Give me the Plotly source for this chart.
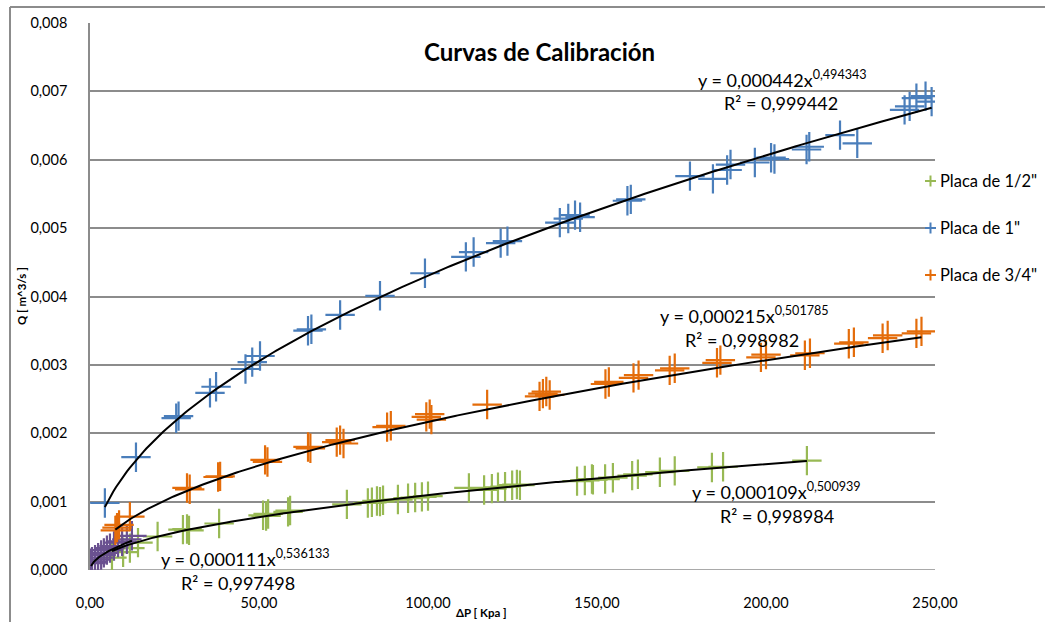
import plotly.graph_objects as go
import numpy as np

# ---------------- data ----------------
blue_x = [4.4, 13.6, 25.5, 26.2, 35.5, 37.3, 46.0, 48.0, 50.3, 64.5, 65.5, 74.0, 85.8, 99.1,
          111.2, 113.5, 121.5, 123.5, 139.0, 141.5, 143.5, 145.0, 159.0, 160.0, 177.5, 184.3,
          188.5, 189.5, 196.7, 201.5, 202.5, 212.0, 212.8, 221.9, 227.0, 241.0, 242.5, 244.5,
          247.2, 249.0]
blue_y = [0.00098, 0.00165, 0.00222, 0.00225, 0.00259, 0.00268, 0.00294, 0.00304, 0.00313,
          0.00350, 0.00352, 0.00373, 0.00401, 0.00434, 0.00458, 0.00465, 0.00478, 0.00481,
          0.00508, 0.00514, 0.00519, 0.00516, 0.00540, 0.00542, 0.00576, 0.00572, 0.00585,
          0.00593, 0.00596, 0.00603, 0.00601, 0.00615, 0.00619, 0.00636, 0.00624, 0.00673,
          0.00678, 0.00690, 0.00693, 0.00685]

orange_x = [7.5, 8.0, 8.6, 11.8, 28.7, 29.5, 37.9, 38.5, 51.8, 52.5, 64.5, 65.2, 73.0, 74.0,
            75.0, 87.9, 89.0, 99.5, 100.5, 101.0, 117.5, 133.0, 134.0, 135.0, 136.0, 152.5,
            153.5, 160.8, 162.3, 171.5, 173.0, 185.5, 186.5, 198.5, 200.0, 211.5, 213.0,
            224.5, 226.0, 234.5, 236.0, 244.5, 246.0]
orange_y = [0.00058, 0.00062, 0.00066, 0.00078, 0.00120, 0.00118, 0.00136, 0.00137, 0.00161,
            0.00158, 0.00180, 0.00178, 0.00187, 0.00190, 0.00185, 0.00209, 0.00211, 0.00224,
            0.00228, 0.00220, 0.00242, 0.00254, 0.00258, 0.00261, 0.00256, 0.00272, 0.00275,
            0.00281, 0.00285, 0.00292, 0.00295, 0.00303, 0.00307, 0.00311, 0.00315, 0.00314,
            0.00317, 0.00331, 0.00333, 0.00339, 0.00343, 0.00346, 0.00349]

green_x = [6.5, 9.8, 11.8, 14.2, 20.0, 27.5, 28.7, 29.3, 38.2, 51.2, 52.1, 52.7, 58.6, 59.2,
           76.0, 82.2, 83.4, 84.9, 85.8, 86.7, 91.1, 94.1, 96.2, 98.2, 100.0, 112.1, 116.6,
           118.9, 120.7, 122.8, 124.9, 126.3, 127.2, 144.1, 146.4, 148.5, 148.8, 152.4, 154.7,
           160.4, 162.1, 168.6, 173.0, 184.0, 187.3, 212.1]
green_y = [0.00018, 0.00026, 0.00032, 0.00040, 0.00049, 0.00059, 0.00060, 0.00058, 0.00068,
           0.00080, 0.00079, 0.00082, 0.00085, 0.00087, 0.00096, 0.00098, 0.00099, 0.00101,
           0.00100, 0.00102, 0.00103, 0.00105, 0.00106, 0.00107, 0.00108, 0.00120, 0.00117,
           0.00119, 0.00121, 0.00122, 0.00124, 0.00125, 0.00124, 0.00130, 0.00131, 0.00133,
           0.00132, 0.00133, 0.00135, 0.00138, 0.00140, 0.00143, 0.00145, 0.00150, 0.00151,
           0.00160]

purple_x = [0.3, 0.6, 1.5, 2.4, 3.3, 4.1, 5.0, 5.9, 7.1, 8.3, 9.5, 10.9, 12.4]
purple_y = [0.00010, 0.00012, 0.00015, 0.00018, 0.00022, 0.00025, 0.00029, 0.00032, 0.00035,
            0.00040, 0.00042, 0.00045, 0.00050]

# trendline coefficients (as displayed on chart): y = a * x^b
fit_blue = (0.000442, 0.494343)
fit_orange = (0.000215, 0.501785)
fit_green = (0.000109, 0.500939)
fit_purple = (0.000111, 0.536133)

legend_names = ['Placa de 1/2"', 'Placa de 1"', 'Placa de 3/4"']

# ---------------- style ----------------
C_BLUE = "#4A7EBB"
C_ORANGE = "#E46C0A"
C_GREEN = "#98B954"
C_PURPLE = "#6A5190"
FONT = "Lato"

W, H = 1045, 622
L, R, T, B = 90, 110, 23, 52
pw, ph = W - L - R, H - T - B
def px(xp):
    return (xp - L) / pw
def py(yp):
    return (H - B - yp) / ph

fig = go.Figure()

def add_series(xs, ys, color):
    fig.add_trace(go.Scatter(
        x=xs, y=ys, mode="markers", showlegend=False, hoverinfo="skip",
        marker=dict(symbol="cross-thin", size=21, color=color,
                    line=dict(color=color, width=2.2))))

add_series(green_x, green_y, C_GREEN)
add_series(purple_x, purple_y, C_PURPLE)
add_series(orange_x, orange_y, C_ORANGE)
add_series(blue_x, blue_y, C_BLUE)

def add_trend(xs, fit):
    xx = np.linspace(min(xs), max(xs), 300)
    a, b = fit
    fig.add_trace(go.Scatter(x=xx, y=a * xx ** b, mode="lines", showlegend=False,
                             hoverinfo="skip", line=dict(color="black", width=2)))

add_trend(blue_x, fit_blue)
add_trend(orange_x, fit_orange)
add_trend(green_x, fit_green)
add_trend(purple_x, fit_purple)

# ---------------- annotations ----------------
eq_font = dict(family=FONT, size=18, color="black")
annots = [
    dict(text="<b>Curvas de Calibración</b>", font=dict(family=FONT, size=24, color="black"),
         ax=539, ay=52),
    dict(text="y = 0,000442x<sup>0,494343</sup>", ax=782, ay=79),
    dict(text="R² = 0,999442", ax=781, ay=103),
    dict(text="y = 0,000215x<sup>0,501785</sup>", ax=744, ay=315),
    dict(text="R² = 0,998982", ax=742, ay=340),
    dict(text="y = 0,000109x<sup>0,500939</sup>", ax=776, ay=491),
    dict(text="R² = 0,998984", ax=777, ay=516),
    dict(text="y = 0,000111x<sup>0,536133</sup>", ax=245, ay=558),
    dict(text="R² = 0,997498", ax=238, ay=583),
]
ann_list = []
for a in annots:
    ann_list.append(dict(
        xref="paper", yref="paper", x=px(a["ax"]), y=py(a["ay"]),
        text=a["text"], showarrow=False, xanchor="center", yanchor="middle",
        font=a.get("font", eq_font)))

# axis titles
ann_list.append(dict(xref="paper", yref="paper", x=px(481), y=py(612),
                     text="<b>ΔP [ Kpa ]</b>", showarrow=False, xanchor="center", yanchor="middle",
                     font=dict(family=FONT, size=11.5, color="black")))
ann_list.append(dict(xref="paper", yref="paper", x=px(21), y=py(296),
                     text="<b>Q [ m^3/s ]</b>", showarrow=False, xanchor="center", yanchor="middle",
                     textangle=-90, font=dict(family=FONT, size=11.5, color="black")))

# outer chart border
shapes = [
    dict(type="line", xref="paper", yref="paper", x0=px(10), x1=px(10),
         y0=py(7), y1=py(640), line=dict(color="#8C8C8C", width=2)),
    dict(type="line", xref="paper", yref="paper", x0=px(10), x1=px(1060),
         y0=py(7), y1=py(7), line=dict(color="#8C8C8C", width=2)),
]

# manual legend (text + cross symbols)
leg_y = [181, 228, 275]
for name, col, yy in zip(legend_names, [C_GREEN, C_BLUE, C_ORANGE], leg_y):
    ann_list.append(dict(xref="paper", yref="paper", x=px(938), y=py(yy), text=name,
                         showarrow=False, xanchor="left", yanchor="middle",
                         font=dict(family=FONT, size=16.5, color="black")))
    shapes.append(dict(type="line", xref="paper", yref="paper", x0=px(925), x1=px(936),
                       y0=py(yy), y1=py(yy), line=dict(color=col, width=2)))
    shapes.append(dict(type="line", xref="paper", yref="paper", x0=px(930.5), x1=px(930.5),
                       y0=py(yy - 5.5), y1=py(yy + 5.5), line=dict(color=col, width=2)))

fig.update_layout(
    width=W, height=H,
    margin=dict(l=L, r=R, t=T, b=B, pad=0),
    paper_bgcolor="white", plot_bgcolor="white",
    separators=", ",
    font=dict(family=FONT, size=14.5, color="black"),
    annotations=ann_list,
    shapes=shapes,
    showlegend=False,
    xaxis=dict(range=[0, 250], tickvals=[0, 50, 100, 150, 200, 250], tickformat=".2f",
               showgrid=False, zeroline=False, showline=False, ticks="",
               ticklabelstandoff=22, tickfont=dict(family=FONT, size=14.5), automargin=False),
    yaxis=dict(range=[0, 0.008], dtick=0.001, tickformat=".3f", showgrid=True,
               gridcolor="#8C8C8C", gridwidth=1.5, zeroline=False,
               showline=True, linecolor="#8C8C8C", linewidth=1.5, ticks="",
               ticklabelstandoff=18, tickfont=dict(family=FONT, size=14.5), automargin=False),
)
fig.add_hline(y=0, line=dict(color="#8C8C8C", width=1.5), layer="below")

fig.write_html("out.html")
